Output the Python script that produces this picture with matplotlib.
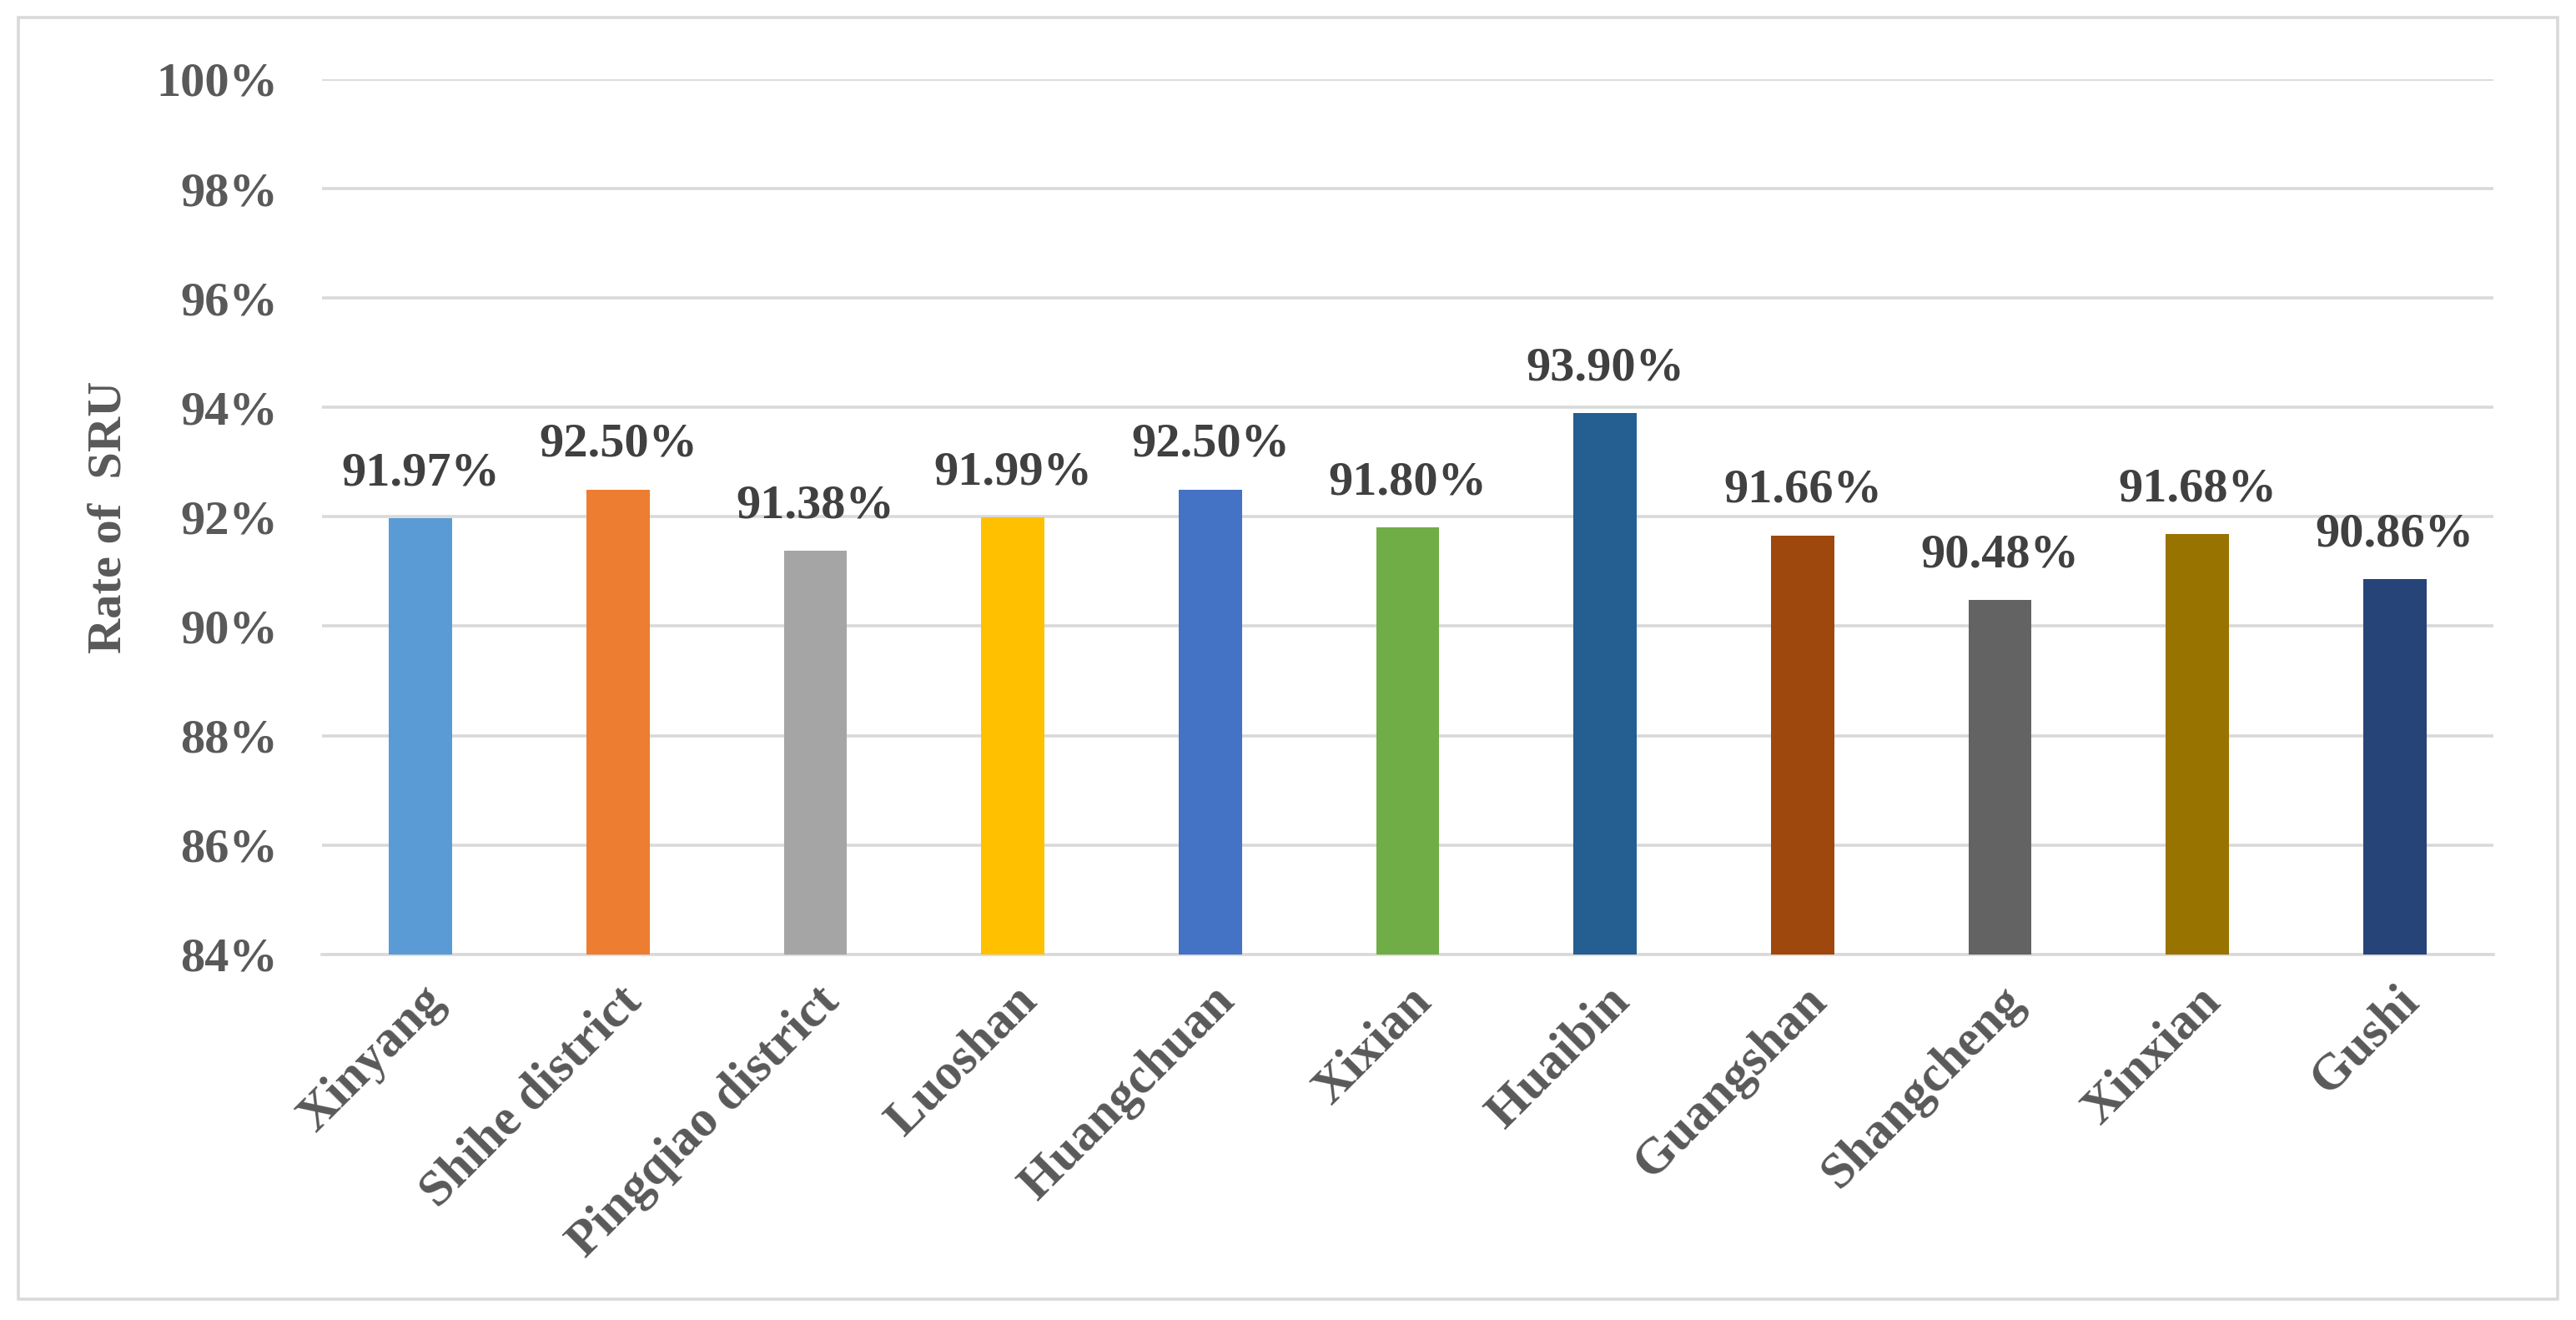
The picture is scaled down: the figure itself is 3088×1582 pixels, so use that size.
import matplotlib
matplotlib.use("Agg")
import matplotlib.pyplot as plt
from matplotlib.patches import Rectangle
from matplotlib.ticker import FuncFormatter

# 数据
regions = ["Xinyang", "Shihe district", "Pingqiao district", "Luoshan", "Huangchuan",
           "Xixian", "Huaibin", "Guangshan", "Shangcheng", "Xinxian", "Gushi"]
rates = [91.97, 92.50, 91.38, 91.99, 92.50, 91.80, 93.90, 91.66, 90.48, 91.68, 90.86]
colors = ["#5B9BD5", "#ED7D31", "#A5A5A5", "#FFC000", "#4472C4", "#70AD47",
          "#255E91", "#9E480E", "#636363", "#997300", "#264478"]
yticks = [84, 86, 88, 90, 92, 94, 96, 98, 100]

plt.rcParams['font.family'] = ['Liberation Serif', 'DejaVu Serif']
plt.rcParams['font.weight'] = 'bold'

fig = plt.figure(figsize=(15.44, 7.91), dpi=200)
ax = fig.add_axes([0.125, 0.277, 0.843, 0.663])

x = range(len(regions))
ax.bar(x, [r - 84 for r in rates], bottom=84, width=0.32, color=colors, zorder=3)

# 数据标签
for i, r in enumerate(rates):
    ax.annotate("%.2f%%" % r, (i, r), xytext=(0, 10), textcoords="offset points",
                ha="center", va="bottom", fontsize=21, fontweight="bold", color="#404040")

ax.set_ylim(84, 100)
ax.set_xlim(-0.5, len(regions) - 0.5)
ax.set_yticks(yticks)
ax.yaxis.set_major_formatter(FuncFormatter(lambda v, p: "%d%%" % v))
ax.grid(axis="y", color="#D9D9D9", linewidth=1.3, zorder=0)

for s in ["top", "right", "left"]:
    ax.spines[s].set_visible(False)
ax.spines["bottom"].set_color("#D9D9D9")
ax.spines["bottom"].set_linewidth(1.3)
ax.tick_params(length=0, labelsize=21, labelcolor="#595959")
ax.tick_params(axis="y", pad=19)

ax.set_xticks(list(x))
ax.set_xticklabels(regions, rotation=45, ha="right", rotation_mode="anchor",
                   fontweight="bold", fontsize=22)
ax.tick_params(axis="x", pad=10)

ax.set_ylabel("Rate of  SRU", fontsize=21, fontweight="bold", color="#595959", labelpad=11)

# 外框
fig.patches.append(Rectangle((0.007, 0.016), 0.986, 0.971, transform=fig.transFigure,
                             fill=False, edgecolor="#D9D9D9", linewidth=1.3))

fig.savefig("out.png", dpi=200)
